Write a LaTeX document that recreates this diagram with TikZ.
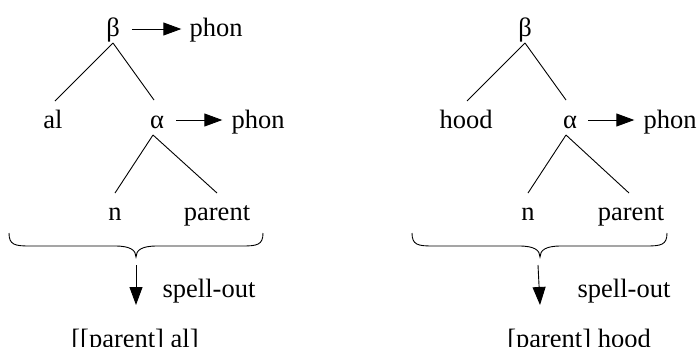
\documentclass[tikz,border=0pt]{standalone}
\usepackage{fontspec}
\setmainfont{Liberation Serif}
\usetikzlibrary{arrows.meta}
\begin{document}
\begin{tikzpicture}[x=1pt,y=-1pt,
  lbl/.style={inner sep=0pt,anchor=base,font=\fontsize{26.5pt}{30pt}\selectfont},
  edge/.style={line width=0.9pt},
  arr/.style={line width=0.9pt,-{Triangle[length=18pt,width=13pt]}},
  brc/.style={line width=0.9pt}]
\useasboundingbox (0,0) rectangle (698,346);
% ---------- left tree ----------
\node[lbl] (bL) at (113,36) {β};
\node[lbl] (phL1) at (216,36) {phon};
\node[lbl] (alL) at (53,128) {al};
\node[lbl] (aL) at (157,128) {α};
\node[lbl] (phL2) at (258,128) {phon};
\node[lbl] (nL) at (115,220) {n};
\node[lbl] (pL) at (217,220) {parent};
\node[lbl] (spL) at (209,297) {spell-out};
\node[lbl] (rL) at (135,347) {[[parent] al]};
\draw[edge] ([yshift=-7pt]bL.base) -- ([xshift=2pt,yshift=27pt]alL.base);
\draw[edge] ([yshift=-7pt]bL.base) -- ([xshift=-3pt,yshift=28pt]aL.base);
\draw[edge] ([xshift=-4pt,yshift=-7pt]aL.base) -- ([yshift=27pt]nL.base);
\draw[edge] ([xshift=-4pt,yshift=-7pt]aL.base) -- ([yshift=27pt]pL.base);
\draw[arr] ([xshift=12pt,yshift=7pt]bL.base east) -- ([xshift=-8pt,yshift=7pt]phL1.base west);
\draw[arr] ([xshift=12pt,yshift=8pt]aL.base east) -- ([xshift=-9pt,yshift=8pt]phL2.base west);
\coordinate (tipL) at (136,257);
\draw[brc] (9,233) .. controls (9,245) and (15,246) .. (30,246) -- (115,246)
  .. controls (130,246) and (136,250) .. (tipL)
  .. controls (136,250) and (142,246) .. (157,246) -- (242,246)
  .. controls (257,246) and (263,245) .. (263,233);
\draw[arr] ([yshift=-8pt]tipL) -- ([xshift=1pt,yshift=42pt]rL.base);
% ---------- right tree ----------
\node[lbl] (bR) at (525,36) {β};
\node[lbl] (hR) at (466,128) {hood};
\node[lbl] (aR) at (570,128) {α};
\node[lbl] (phR) at (670,128) {phon};
\node[lbl] (nR) at (528,220) {n};
\node[lbl] (pR) at (631,220) {parent};
\node[lbl] (spR) at (624,297) {spell-out};
\node[lbl] (rR) at (579,347) {[parent] hood};
\draw[edge] ([yshift=-7pt]bR.base) -- ([xshift=1pt,yshift=27pt]hR.base);
\draw[edge] ([yshift=-7pt]bR.base) -- ([xshift=-4pt,yshift=28pt]aR.base);
\draw[edge] ([xshift=-4pt,yshift=-7pt]aR.base) -- ([yshift=27pt]nR.base);
\draw[edge] ([xshift=-4pt,yshift=-7pt]aR.base) -- ([xshift=-2pt,yshift=27pt]pR.base);
\draw[arr] ([xshift=11pt,yshift=8pt]aR.base east) -- ([xshift=-9pt,yshift=8pt]phR.base west);
\coordinate (tipR) at (540,257);
\draw[brc] (412,233) .. controls (412,245) and (418,246) .. (433,246) -- (519,246)
  .. controls (534,246) and (540,250) .. (tipR)
  .. controls (540,250) and (546,246) .. (561,246) -- (646,246)
  .. controls (661,246) and (667,245) .. (667,233);
\draw[arr] ([xshift=-2pt,yshift=-8pt]tipR) -- ([xshift=-39pt,yshift=42pt]rR.base);
\end{tikzpicture}
\end{document}
